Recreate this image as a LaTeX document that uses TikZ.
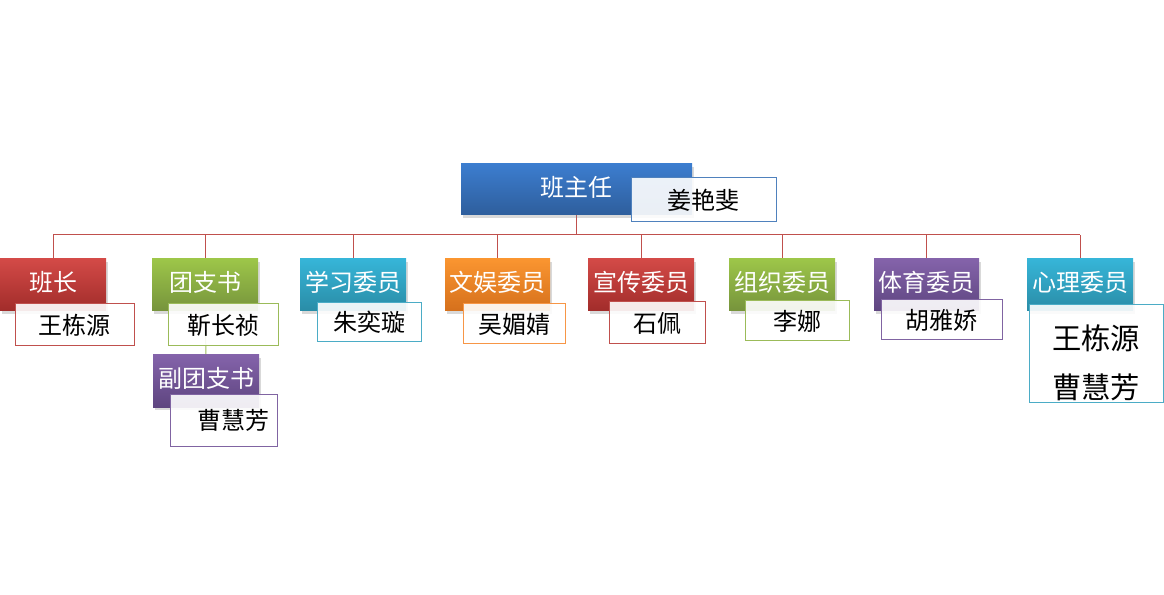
\documentclass[tikz,border=0pt]{standalone}
\usepackage{fontspec}
\setmainfont{Noto Sans CJK SC}
\usetikzlibrary{shadows}
\newlength\pxu \setlength\pxu{0.75pt}
\definecolor{redT}{HTML}{D34A47}\definecolor{redB}{HTML}{A12C2A}\definecolor{redL}{HTML}{C0504D}
\definecolor{grnT}{HTML}{9DC649}\definecolor{grnB}{HTML}{76933C}\definecolor{grnL}{HTML}{9BBB59}
\definecolor{cyaT}{HTML}{36B5D8}\definecolor{cyaB}{HTML}{2A8CA6}\definecolor{cyaL}{HTML}{4BACC6}
\definecolor{oraT}{HTML}{FA9530}\definecolor{oraB}{HTML}{D5701C}\definecolor{oraL}{HTML}{F79646}
\definecolor{purT}{HTML}{8463AA}\definecolor{purB}{HTML}{5E4580}\definecolor{purL}{HTML}{8064A2}
\definecolor{bluT}{HTML}{3C7DCF}\definecolor{bluB}{HTML}{2E5E9C}\definecolor{bluL}{HTML}{4F81BD}
\pgfdeclarelayer{bg}\pgfsetlayers{bg,main}
\tikzset{
  role/.style n args={2}{draw=none, top color=#1, bottom color=#2, text=white,
    font=\fontsize{18pt}{20pt}\selectfont, minimum width=106\pxu, minimum height=52\pxu,
    text height=16pt, text depth=6pt,
    inner sep=0pt, drop shadow={shadow xshift=2\pxu, shadow yshift=-3\pxu, opacity=0.3}},
  namebox/.style={draw=#1, line width=1\pxu, fill=white, fill opacity=0.9, text opacity=1,
    text=black, font=\fontsize{18pt}{20pt}\selectfont, inner sep=0pt},
  conn/.style={draw=redL, line width=1\pxu},
}
\begin{document}
\begin{tikzpicture}[x=0.75pt,y=-0.75pt]
\useasboundingbox (0,0) rectangle (1164,595);
% role boxes
\node[role={bluT}{bluB}, minimum width=231\pxu, minimum height=51\pxu] (zhuren) at (576.5,189.5) {班主任};
\node[role={redT}{redB}] (banzhang) at (53,285) {班长};
\node[role={grnT}{grnB}] (tuan) at (205,285) {团支书};
\node[role={purT}{purB}] (futuan) at (206,381) {副团支书};
\node[role={cyaT}{cyaB}] (xuexi) at (353,285) {学习委员};
\node[role={oraT}{oraB}, minimum width=105\pxu] (wenyu) at (497.5,285) {文娱委员};
\node[role={redT}{redB}] (xuanchuan) at (641,285) {宣传委员};
\node[role={grnT}{grnB}] (zuzhi) at (782,285) {组织委员};
\node[role={purT}{purB}, minimum width=105\pxu] (tiyu) at (926.5,285) {体育委员};
\node[role={cyaT}{cyaB}] (xinli) at (1080,285) {心理委员};
% name boxes
\node[namebox=bluL, minimum width=145\pxu, minimum height=44\pxu] (nzhuren) at (703.5,200) {姜艳斐};
\node[namebox=redL, minimum width=119\pxu, minimum height=42\pxu] (nbanzhang) at (74.5,325) {王栋源};
\node[namebox=grnL, minimum width=110\pxu, minimum height=42\pxu] (ntuan) at (223,325) {靳长祯};
\node[namebox=purL, minimum width=107\pxu, minimum height=52\pxu] (nfutuan) at (223.5,420) {\hspace*{19\pxu}曹慧芳};
\node[namebox=cyaL, minimum width=104\pxu, minimum height=39\pxu] (nxuexi) at (369,322.5) {朱奕璇};
\node[namebox=oraL, minimum width=102\pxu, minimum height=40\pxu] (nwenyu) at (514,324) {吴媚婧};
\node[namebox=redL, minimum width=96\pxu, minimum height=42\pxu] (nxuanchuan) at (657,323) {石佩};
\node[namebox=grnL, minimum width=104\pxu, minimum height=40\pxu] (nzuzhi) at (797,321) {李娜};
\node[namebox=purL, minimum width=121\pxu, minimum height=40\pxu] (ntiyu) at (941.5,320) {胡雅娇};
\node[namebox=cyaL, minimum width=134\pxu, minimum height=97\pxu] (nxinli) at (1096,353.5) {};
\node[text=black, inner sep=0pt, align=center, font=\fontsize{22pt}{37pt}\selectfont] (nxinlitext) at (1096,362.5) {王栋源\\曹慧芳};
% connectors
\begin{pgfonlayer}{bg}
\coordinate (bar) at (577,235);
\draw[conn] (zhuren.south) -- (zhuren.south |- bar);
\draw[conn] (banzhang.north |- bar) -- (xinli.north |- bar);
\foreach \c in {banzhang,tuan,xuexi,wenyu,xuanchuan,zuzhi,tiyu,xinli}
  \draw[conn] (\c.north) -- (\c.north |- bar);
\draw[draw=grnL, line width=1\pxu] (tuan.south) -- (futuan.north);
\end{pgfonlayer}
\end{tikzpicture}
\end{document}
